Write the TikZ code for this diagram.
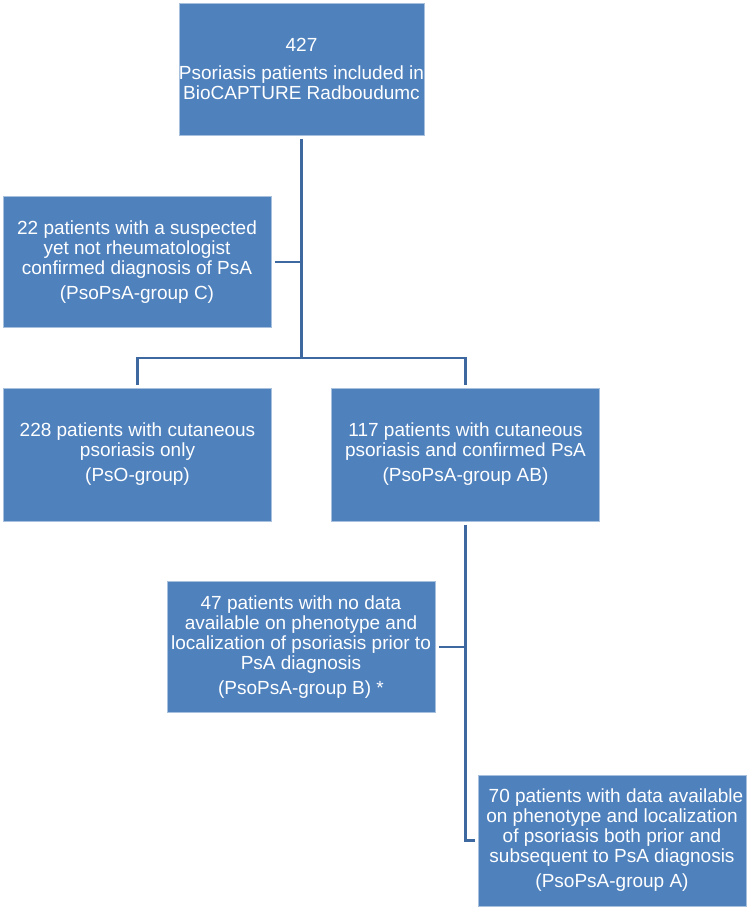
\documentclass[tikz,border=0pt]{standalone}
\usepackage{fontspec}
\setmainfont{Liberation Sans}
\usetikzlibrary{shapes,arrows,positioning}
\definecolor{boxblue}{RGB}{79,129,189}
\definecolor{boxedge}{RGB}{167,192,222}
\definecolor{linkblue}{RGB}{62,104,160}
\tikzset{
  flowbox/.style={rectangle, fill=boxblue, draw=boxedge, line width=0.6pt, text=white,
    align=center, inner sep=0pt, outer sep=3.5pt, minimum width=268pt, minimum height=131pt,
    font=\fontsize{19}{20}\selectfont},
  link/.style={draw=linkblue, line width=2.6pt}
}

\begin{document}
\begin{tikzpicture}[x=1pt,y=-1pt]
\useasboundingbox (0,0) rectangle (751,910);
% boxes
\node[flowbox, minimum width=211pt, minimum height=132pt] (total) at (301.5,69) {427\\[8pt]Psoriasis patients included in\\BioCAPTURE Radboudumc};
\node[flowbox] (groupC) at (137,262) {22 patients with a suspected\\yet not rheumatologist\\confirmed diagnosis of PsA\\[5pt](PsoPsA-group C)};
\node[flowbox, minimum height=133pt] (pso) at (137.5,454.5) {228 patients with cutaneous\\psoriasis only\\[5pt](PsO-group)};
\node[flowbox, minimum height=133pt] (groupAB) at (465.5,454.5) {117 patients with cutaneous\\psoriasis and confirmed PsA\\[5pt](PsoPsA-group AB)};
\node[flowbox] (groupB) at (301,647) {47 patients with no data\\available on phenotype and\\localization of psoriasis prior to\\PsA diagnosis\\[5pt](PsoPsA-group B) *};
\node[flowbox] (groupA) at (612,840.5) {\hspace*{8pt}70 patients with data available\\on phenotype and localization\\of psoriasis both prior and\\subsequent to PsA diagnosis\\[5pt](PsoPsA-group A)};
% connectors
\coordinate (split) at (301.5,358);
\draw[link] (total) -- (split);
\draw[link] (groupC.east) -- (groupC.east -| split);
\draw[link] (pso.north) |- (split) -| (groupAB.north);
\draw[link] (groupAB.south) |- (groupA.west);
\draw[link] (groupB.east) -- (groupB.east -| groupAB.south);
\end{tikzpicture}
\end{document}
